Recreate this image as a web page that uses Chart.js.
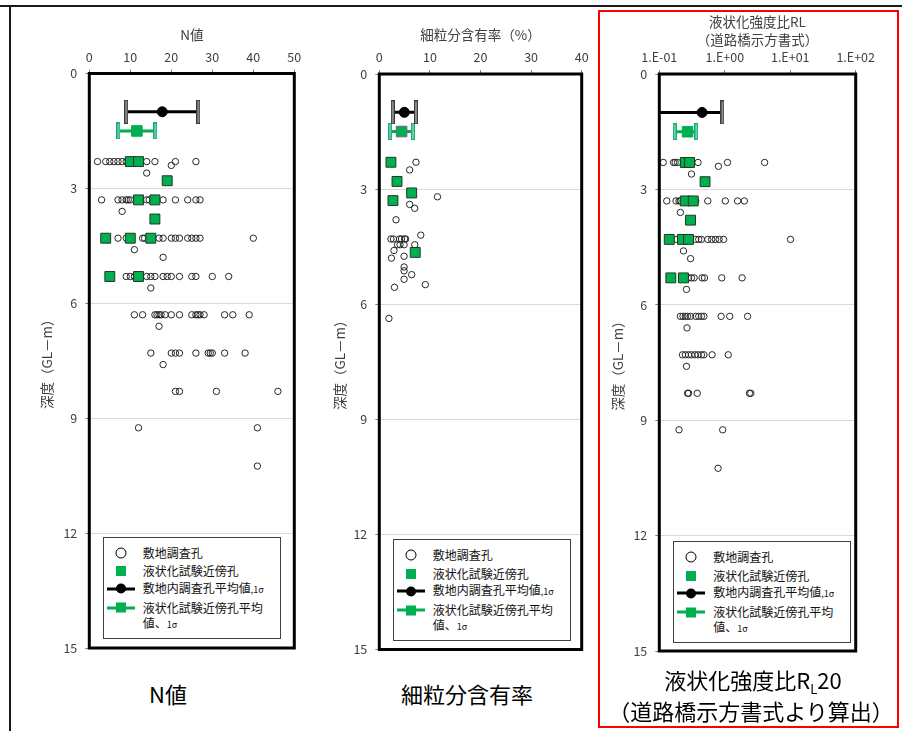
<!DOCTYPE html>
<html>
<head>
<meta charset="utf-8">
<script src="https://cdn.jsdelivr.net/npm/chart.js@4/dist/chart.umd.min.js"></script>
<style>
html, body { margin: 0; padding: 0; background: #fff; }
#page { position: relative; width: 902px; height: 731px; overflow: hidden;
        font-family: "Noto Sans CJK JP", "Noto Sans", sans-serif; }
canvas.panel { position: absolute; top: 0; }
.rule { position: absolute; background: #1a1a1a; }
#redbox { position: absolute; left: 598px; top: 10px; width: 301px; height: 718px;
          border: 2px solid #ff0000; box-sizing: border-box; }
.legend { position: absolute; width: 178px; height: 102px; border: 1px solid #404040;
          background: #fff; box-sizing: border-box; }
.legend .txt { position: absolute; left: 39px; font-size: 12px; line-height: 16px; color: #111;
               white-space: nowrap; transform: translateY(-50%); }
.legend .mk { position: absolute; transform: translate(-50%, -50%); }
.small { font-size: 9px; }
.caption { position: absolute; font-size: 22px; color: #000; white-space: nowrap;
           transform: translate(-50%, -50%); line-height: 26px; }
.sub { font-size: 13px; position: relative; top: 5px; }
</style>
</head>
<body>
<div id="page">
  <div class="rule" style="left:0;top:5px;width:902px;height:2px;"></div>
  <div class="rule" style="left:9px;top:5px;width:2px;height:726px;"></div>
  <div id="redbox"></div>
  <canvas id="cN" class="panel" width="290" height="670" style="left:20px"></canvas>
  <canvas id="cFc" class="panel" width="290" height="670" style="left:310px"></canvas>
  <canvas id="cRl" class="panel" width="290" height="670" style="left:590px"></canvas>
  <div class="caption" style="left:168px;top:693px;">N値</div>
  <div class="caption" style="left:467px;top:693px;">細粒分含有率</div>
  <div class="caption" style="left:753px;top:681px;">液状化強度比R<span class="sub">L</span>20</div>
  <div class="caption" style="left:751px;top:710px;">（道路橋示方書式より算出）</div>
</div>
<script>
// ---------- N-value panel ----------
// site boreholes: depth rows (GL-m) and the N-values found at each row
const nRowDepths = [2.3, 2.4, 2.6, 3.3, 3.6, 4.3, 4.6, 4.8, 5.3, 5.6, 6.3, 6.6, 7.3, 7.6, 8.3, 9.25, 10.25];
const nRowValues = [
  [2, 4, 5, 6, 7, 8, 9, 14, 16, 21, 26],
  [20],
  [14],
  [3, 7, 8, 9, 9.5, 10, 14, 14.6, 18, 21, 24, 26, 27],
  [8],
  [7, 9, 13, 13.5, 17, 18, 20, 21, 22, 24, 25, 26, 27, 40],
  [11],
  [18],
  [9, 10, 11, 14, 15, 16, 18, 19, 20, 22, 25, 26, 30, 34],
  [15],
  [11, 13, 16, 16.5, 17, 17.5, 18.5, 20, 22, 25, 26, 26.5, 27, 28, 33, 35, 39],
  [17],
  [15, 20, 21, 22, 26, 29, 29.5, 30, 33, 38],
  [18],
  [21, 22, 31, 46],
  [12, 41],
  [41]
];
// boreholes next to the liquefaction test
const nNearDepths = [2.3, 2.3, 2.8, 3.3, 3.3, 3.8, 4.3, 4.3, 4.3, 5.3, 5.3];
const nNearValues = [10, 12, 19, 12, 16, 16, 4, 10, 15, 5, 12];

// ---------- fines content panel ----------
const fcSiteDepths = [2.3, 2.5, 3.2, 3.4, 3.5, 3.8, 4.2, 4.3, 4.3, 4.3, 4.3, 4.3, 4.3, 4.45, 4.45, 4.45, 4.45,
                      4.6, 4.75, 4.8, 5.03, 5.13, 5.23, 5.35, 5.49, 5.56, 6.37];
const fcSiteValues = [7.25, 6.0, 11.5, 6.0, 7.0, 3.3, 8.2, 2.3, 2.8, 4.0, 4.4, 5.0, 5.2, 3.6, 4.1, 4.9, 7.0,
                      2.9, 4.9, 2.4, 4.9, 4.9, 6.4, 4.9, 9.1, 3.0, 1.9];
const fcNearDepths = [2.3, 2.8, 3.1, 3.3, 4.65];
const fcNearValues = [2.3, 3.5, 6.4, 2.7, 7.1];

// ---------- liquefaction strength ratio panel ----------
const rlRowDepths = [2.3, 2.4, 2.6, 3.3, 3.6, 4.3, 4.6, 4.8, 5.3, 5.6, 6.3, 6.6, 7.3, 7.6, 8.3, 9.25, 10.25];
const rlRowValues = [
  [0.115, 0.165, 0.175, 0.19, 0.39, 1.10, 4.06],
  [0.80],
  [0.31],
  [0.13, 0.18, 0.20, 0.21, 0.36, 0.55, 1.02, 1.57, 1.99],
  [0.21],
  [0.186, 0.36, 0.40, 0.44, 0.55, 0.63, 0.72, 0.82, 0.96, 10.1],
  [0.234],
  [0.30],
  [0.28, 0.31, 0.34, 0.45, 0.49, 0.90, 1.84],
  [0.26],
  [0.21, 0.23, 0.25, 0.27, 0.30, 0.36, 0.40, 0.44, 0.48, 0.88, 1.19, 2.23],
  [0.265],
  [0.226, 0.25, 0.28, 0.31, 0.35, 0.39, 0.44, 0.48, 0.64, 1.13],
  [0.26],
  [0.27, 0.28, 0.38, 2.38, 2.5],
  [0.20, 0.93],
  [0.79]
];
const rlNearDepths = [2.3, 2.3, 2.8, 3.3, 3.3, 3.8, 4.3, 4.3, 4.3, 5.3, 5.3];
const rlNearValues = [0.25, 0.29, 0.50, 0.25, 0.33, 0.30, 0.142, 0.226, 0.28, 0.15, 0.234];

// ---------- means and 1σ (site boreholes, near-test boreholes) ----------
const meanDepths = [1.0, 1.5];
const nMeans = [17.8, 11.6];
const nSds = [8.8, 4.5];
const fcMeans = [4.95, 4.4];
const fcSds = [2.3, 2.25];
const rlMeans = [0.45, 0.27];
const rlSds = [0.47, 0.098];

// ---------- axes ----------
const depthTicks = [0, 3, 6, 9, 12, 15];
const rlTickValues = [0.1, 1, 10, 100];
const rlTickLabels = ['1.E-01', '1.E+00', '1.E+01', '1.E+02'];
const legendLabels = ['敷地調査孔', '液状化試験近傍孔', '敷地内調査孔平均値', '液状化試験近傍孔平均', '値、1σ'];

const FONT = "'Noto Sans CJK JP', 'Noto Sans', sans-serif";
const GREEN = '#00b050';

function rowsToPoints(depths, rows) {
  const pts = [];
  depths.forEach((d, i) => rows[i].forEach(v => pts.push({ x: v, y: d })));
  return pts;
}
function pairsToPoints(depths, values) {
  return values.map((v, i) => ({ x: v, y: depths[i] }));
}

// error-bar end caps
function capImage(w, h, fill, stroke) {
  const c = document.createElement('canvas');
  c.width = w; c.height = h;
  const g = c.getContext('2d');
  g.fillStyle = fill; g.fillRect(0, 0, w, h);
  g.strokeStyle = stroke; g.lineWidth = 1; g.strokeRect(0.5, 0.5, w - 1, h - 1);
  return c;
}
const blackCap = capImage(4, 24, '#8a8a8a', '#3a3a3a');
const greenCap = capImage(4, 17, '#5fd3a4', '#1aa877');

// thick frame round the plotting area
const framePlugin = {
  id: 'frame',
  afterDraw(chart) {
    const a = chart.chartArea, ctx = chart.ctx;
    ctx.save();
    ctx.strokeStyle = '#000';
    ctx.lineWidth = 3;
    ctx.strokeRect(a.left, a.top, a.right - a.left, a.bottom - a.top);
    ctx.restore();
  }
};

function errorBar(mean, sd, depth, color, cap, axisMin) {
  let lo = mean - sd, loR = 3;
  if (axisMin !== undefined && lo <= axisMin) { lo = axisMin; loR = 0; }
  return {
    data: [{ x: lo, y: depth }, { x: mean + sd, y: depth }],
    showLine: true, borderColor: color, borderWidth: 3,
    pointStyle: cap, pointRadius: [loR, 3], pointHoverRadius: 0
  };
}

function makePanel(id, p) {
  const xScale = {
    type: p.log ? 'logarithmic' : 'linear',
    position: 'top', min: p.xMin, max: p.xMax,
    ticks: { font: { family: FONT, size: 12.5 }, color: '#404040', padding: 5 },
    grid: { drawOnChartArea: false, tickLength: 4, tickColor: '#7f7f7f' },
    border: { display: false },
    title: { display: true, text: p.xTitle, color: '#404040',
             font: { family: FONT, size: 13.5, lineHeight: p.titleLH || 1.2 },
             padding: { top: p.xTitlePad, bottom: 0 } },
    afterFit(s) { s.height = p.top; }
  };
  if (p.log) {
    xScale.afterBuildTicks = s => { s.ticks = rlTickValues.map(v => ({ value: v })); };
    xScale.ticks.callback = v => rlTickLabels[rlTickValues.indexOf(v)];
  } else {
    xScale.ticks.stepSize = p.xStep;
  }
  const mMeans = p.means, mSds = p.sds;
  const datasets = [
    { data: [{ x: mMeans[0], y: meanDepths[0] }], pointStyle: 'circle', pointRadius: 5,
      pointBackgroundColor: '#000', pointBorderColor: '#000', pointBorderWidth: 1 },
    errorBar(mMeans[0], mSds[0], meanDepths[0], '#000', blackCap, p.log ? p.xMin : undefined),
    { data: [{ x: mMeans[1], y: meanDepths[1] }], pointStyle: 'rect', pointRadius: 7.5,
      pointBackgroundColor: GREEN, pointBorderColor: p.meanSqBorder || GREEN, pointBorderWidth: 1 },
    errorBar(mMeans[1], mSds[1], meanDepths[1], GREEN, greenCap),
    { data: p.near, pointStyle: 'rect', pointRadius: 7,
      pointBackgroundColor: GREEN, pointBorderColor: '#1e3a1e', pointBorderWidth: 1 },
    { data: p.site, pointStyle: 'circle', pointRadius: 3.2,
      pointBackgroundColor: 'rgba(0,0,0,0)', pointBorderColor: '#262626', pointBorderWidth: 1 }
  ];
  return new Chart(document.getElementById(id), {
    type: 'scatter',
    data: { datasets },
    options: {
      responsive: false, animation: false, events: [],
      layout: { padding: { left: 0, top: 0, right: p.padR, bottom: p.padB } },
      plugins: { legend: { display: false }, tooltip: { enabled: false } },
      scales: {
        x: xScale,
        y: {
          type: 'linear', reverse: true, min: 0, max: 15,
          afterBuildTicks: s => { s.ticks = depthTicks.map(v => ({ value: v })); },
          ticks: { font: { family: FONT, size: 12.5 }, color: '#404040', padding: 8 },
          grid: { color: '#d9d9d9', tickColor: '#7f7f7f', tickLength: 4 },
          border: { display: false },
          title: { display: true, text: '深度（GL－m）', color: '#404040',
                   font: { family: FONT, size: 13.5 }, padding: { top: p.yTitlePad, bottom: 0 } },
          afterFit(s) { s.width = 69.3; }
        }
      }
    },
    plugins: [framePlugin]
  });
}

makePanel('cN', {
  xMin: 0, xMax: 50, xStep: 10, xTitle: 'N値', xTitlePad: 26.9, yTitlePad: 18.9,
  top: 73.5, padR: 15.7, padB: 22,
  means: nMeans, sds: nSds,
  site: rowsToPoints(nRowDepths, nRowValues), near: pairsToPoints(nNearDepths, nNearValues)
});
makePanel('cFc', {
  xMin: 0, xMax: 40, xStep: 10, xTitle: '細粒分含有率（%）', xTitlePad: 26.9, yTitlePad: 21.9,
  top: 74, padR: 18.3, padB: 20.5, meanSqBorder: '#7a5c9c',
  means: fcMeans, sds: fcSds,
  site: pairsToPoints(fcSiteDepths, fcSiteValues), near: pairsToPoints(fcNearDepths, fcNearValues)
});
makePanel('cRl', {
  log: true, xMin: 0.1, xMax: 100, xTitle: ['液状化強度比RL', '（道路橋示方書式）'], titleLH: 1.333,
  xTitlePad: 13, yTitlePad: 19.9, top: 74, padR: 17.3, padB: 19,
  means: rlMeans, sds: rlSds,
  site: rowsToPoints(rlRowDepths, rlRowValues), near: pairsToPoints(rlNearDepths, rlNearValues)
});

// ---------- legends inside each plot ----------
function marker(kind) {
  const el = document.createElement('div');
  el.className = 'mk';
  el.style.left = '17px';
  if (kind === 'circle') {
    el.style.cssText += 'width:9px;height:9px;border:1.5px solid #000;border-radius:50%;background:#fff;';
  } else if (kind === 'square') {
    el.style.cssText += 'width:10px;height:10px;background:' + GREEN + ';';
  } else {
    const color = kind === 'blackLine' ? '#000' : GREEN;
    el.style.cssText += 'width:28px;height:3px;background:' + color + ';';
    const dot = document.createElement('div');
    dot.style.cssText = 'position:absolute;left:9px;top:-3.5px;width:10px;height:10px;background:' + color + ';' +
      (kind === 'blackLine' ? 'border-radius:50%;' : '');
    el.appendChild(dot);
  }
  return el;
}
function buildLegend(left, top) {
  const box = document.createElement('div');
  box.className = 'legend';
  box.style.left = left + 'px';
  box.style.top = top + 'px';
  const rowsY = [15, 33.5, 51, 70, 86];
  const kinds = ['circle', 'square', 'blackLine', 'greenLine'];
  kinds.forEach((k, i) => {
    const m = marker(k);
    m.style.top = rowsY[i] + 'px';
    box.appendChild(m);
  });
  legendLabels.forEach((t, i) => {
    const d = document.createElement('div');
    d.className = 'txt';
    d.style.top = rowsY[i] + 'px';
    if (i === 2) {
      d.innerHTML = t + '<span class="small">,1σ</span>';
    } else if (i === 4) {
      d.innerHTML = t.replace('1σ', '<span class="small">1σ</span>');
    } else {
      d.textContent = t;
    }
    box.appendChild(d);
  });
  document.getElementById('page').appendChild(box);
}
buildLegend(102.7, 536.7);
buildLegend(392.7, 539.3);
buildLegend(673.3, 541);
</script>
</body>
</html>
